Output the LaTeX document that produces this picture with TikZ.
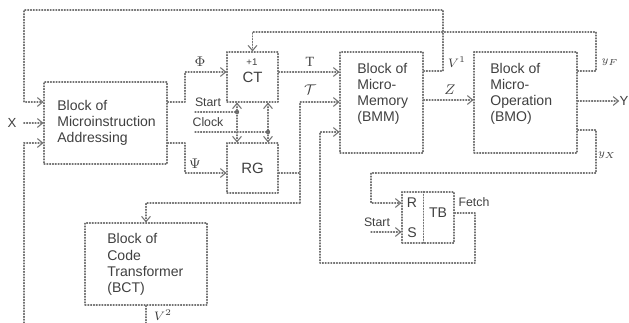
\documentclass[tikz,border=0pt]{standalone}
\usepackage{fontspec}
\setmainfont{Liberation Sans}
\newfontfamily\lsr{Liberation Serif}
\usetikzlibrary{arrows.meta}

\begin{document}
\begin{tikzpicture}[x=0.02cm, y=-0.02cm, line join=round, line cap=round,
  wire/.style={draw=black!55, densely dotted, line width=0.6pt},
  tip/.style={-{Straight Barb[length=3pt, width=5pt]}},
  tips/.style={{Straight Barb[length=3pt, width=5pt]}-{Straight Barb[length=3pt, width=5pt]}},
  block/.style={wire, inner sep=0pt, text=black!75, font=\fontsize{8.5}{10}\selectfont},
  txt/.style={align=left, inner sep=0pt, text=black!75, font=\fontsize{8}{9.2}\selectfont},
  tag/.style={inner sep=0pt, text=black!75, font=\fontsize{7}{8}\selectfont},
  sym/.style={inner sep=0pt, text=black!75, font=\fontsize{8}{9}\selectfont},
  dot/.style={circle, fill=black!60, inner sep=0pt, minimum size=2.5pt}]
  \useasboundingbox (0,0) rectangle (629,323);

  \node[block, minimum width=2.46cm, minimum height=1.64cm] (bma) at (105.5,123) {};
  \node[block, minimum width=1.02cm, minimum height=1cm] (ct) at (252.5,77) {CT};
  \node[block, minimum width=1.02cm, minimum height=1cm] (rg) at (252.5,168) {RG};
  \node[block, minimum width=1.66cm, minimum height=2.02cm] (bmm) at (381.5,102.5) {};
  \node[block, minimum width=2.06cm, minimum height=2.02cm] (bmo) at (525.5,102.5) {};
  \node[block, minimum width=2.44cm, minimum height=1.64cm] (bct) at (146,264) {};
  \node[block, minimum width=1.04cm, minimum height=1.02cm] (tb) at (428,217.5) {};
  \node[block, draw=none, minimum width=0.42cm, minimum height=1.02cm] (rs) at (412.5,217.5) {};
  \draw[wire] (rs.north east) -- (rs.south east);

  \node[txt, anchor=west] (bmatxt) at (57,123) {Block of\\Microinstruction\\Addressing};
  \node[txt, anchor=west] (bmmtxt) at (357,94) {Block of\\Micro-\\Memory\\(BMM)};
  \node[txt, anchor=west] (bmotxt) at (490,94) {Block of\\Micro-\\Operation\\(BMO)};
  \node[txt, anchor=west] (bcttxt) at (107,264.5) {Block of\\Code\\Transformer\\(BCT)};

  \node[sym] (rlbl) at (412,203) {R};
  \node[sym] (slbl) at (412,233) {S};
  \node[sym] (tblbl) at (438,213) {TB};
  \node[tag, font=\fontsize{5.5}{6}\selectfont] (plus) at (252,62) {+1};

  \node[sym, font=\fontsize{7.5}{9}\selectfont] (xin) at (12,123) {X};
  \node[sym, font=\fontsize{7.5}{9}\selectfont] (yout) at (624,101) {Y};
  \node[sym] (philbl) at (200,62) {$\Phi$};
  \node[sym] (psilbl) at (195,164) {$\Psi$};
  \node[tag] (stlbl) at (208,102) {Start};
  \node[tag] (cklbl) at (208,122) {Clock};
  \node[sym] (tlbl) at (310,62) {\lsr T};
  \node[sym] (taulbl) at (310,90) {$\mathcal{T}$};
  \node[sym] (zlbl) at (450,90) {$Z$};
  \node[tag] (v1lbl) at (457,62) {$V^1$};
  \node[tag, font=\fontsize{6}{7}\selectfont] (yflbl) at (610,62) {$y_F$};
  \node[tag, font=\fontsize{6}{7}\selectfont] (yxlbl) at (607,155) {$y_X$};
  \node[tag] (stlbl2) at (377,222) {Start};
  \node[tag] (fetch) at (474,202) {Fetch};
  \node[tag] (v2lbl) at (163,315) {$V^2$};

  \node[dot] (sdot) at (237,112) {};
  \node[dot] (cdot) at (268,132) {};

  \coordinate (v1a) at (443,10);
  \coordinate (v1b) at (24,10);
  \coordinate (low) at (24,323);
  \coordinate (phik) at (185,102);
  \coordinate (psik) at (185,143);
  \coordinate (sA) at (195,112);
  \coordinate (cA) at (195,132);
  \coordinate (taut) at (300,102);
  \coordinate (taub) at (300,203);
  \coordinate (yfk) at (596,32);
  \coordinate (yxk) at (596,173);
  \coordinate (rk) at (371,203);
  \coordinate (stB) at (371,232);
  \coordinate (fk1) at (475,263);
  \coordinate (fk2) at (320,132);
  \coordinate (v2) at (146,323);

  \draw[wire,tip] (bmm.east |- 0,71) -| (v1a) -- (v1b) |- (bma.west |- 0,102);
  \draw[wire,tip, shorten <=4pt] (xin) -- (bma.west |- xin);
  \draw[wire,tip] (low) |- (bma.west |- 0,143);
  \draw[wire,tip] (bma.east |- phik) -- (phik) |- (ct.west |- 0,72);
  \draw[wire,tip] (bma.east |- psik) -- (psik) |- (rg.west |- 0,173);

  \draw[wire] (sA) -- (sdot);
  \draw[wire] (cA) -- (cdot);
  \draw[wire,tips] (ct.south -| sdot) -- (rg.north -| sdot);
  \draw[wire,tips] (ct.south -| cdot) -- (rg.north -| cdot);

  \draw[wire,tip] (ct.east |- 0,72) -- (bmm.west |- 0,72);
  \draw[wire] (rg.east |- 0,173) -- (taub |- 0,173);
  \draw[wire,tip] (taub) -- (taut) -- (bmm.west |- taut);
  \draw[wire,tip] (taub) -| (bct.north);
  \draw[wire] (bct.south) -- (v2);

  \draw[wire,tip] (bmm.east |- 0,100) -- (bmo.west |- 0,100);
  \draw[wire,tip] (bmo.east |- 0,71) -| (yfk) -| (ct.north);
  \draw[wire,tip] (bmo.east |- yout) -- (yout);
  \draw[wire,tip] (bmo.east |- 0,130) -| (yxk) -| (rk) -- (rs.west |- rk);

  \draw[wire,tip] (stB) -- (rs.west |- stB);
  \draw[wire,tip] (tb.east |- 0,213) -| (fk1) -| (fk2) -- (bmm.west |- fk2);
\end{tikzpicture}
\end{document}
